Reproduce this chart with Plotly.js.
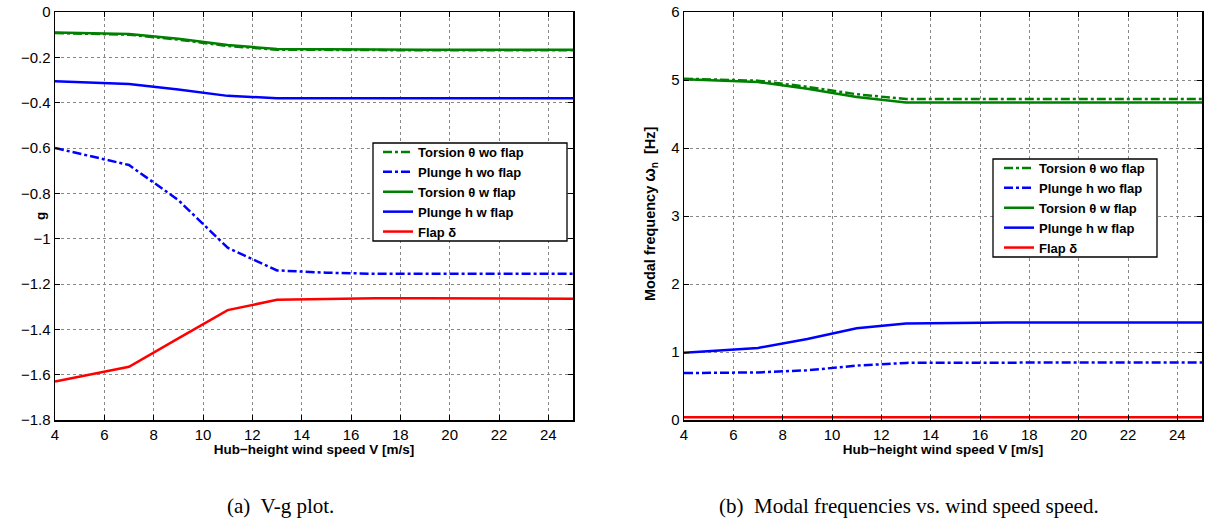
<!DOCTYPE html>
<html><head><meta charset="utf-8">
<script src="https://cdn.plot.ly/plotly-3.0.1.min.js"></script>
<style>body{margin:0;background:#fff}#c{width:1209px;height:520px}</style>
</head><body><div id="c"></div>
<script>
const windSpeed = [4, 7, 9, 11, 13, 15, 17, 19, 21, 23, 25];
const seriesNames = ["Torsion θ wo flap", "Plunge h wo flap", "Torsion θ w flap", "Plunge h w flap", "Flap δ"];
// V-g damping
const gTorsionWo = [-0.093, -0.100, -0.122, -0.150, -0.166, -0.168, -0.169, -0.169, -0.169, -0.169, -0.169];
const gPlungeWo  = [-0.600, -0.675, -0.830, -1.040, -1.140, -1.150, -1.155, -1.155, -1.155, -1.155, -1.155];
const gTorsionW  = [-0.090, -0.097, -0.118, -0.146, -0.163, -0.165, -0.166, -0.166, -0.166, -0.166, -0.166];
const gPlungeW   = [-0.305, -0.318, -0.342, -0.370, -0.380, -0.381, -0.381, -0.381, -0.381, -0.381, -0.381];
const gFlap      = [-1.630, -1.565, -1.440, -1.315, -1.270, -1.265, -1.263, -1.263, -1.263, -1.264, -1.265];
// Modal frequencies [Hz]
const fTorsionWo = [5.02, 4.99, 4.90, 4.79, 4.72, 4.72, 4.72, 4.72, 4.72, 4.72, 4.72];
const fPlungeWo  = [0.69, 0.70, 0.73, 0.80, 0.84, 0.845, 0.845, 0.845, 0.845, 0.845, 0.845];
const fTorsionW  = [5.01, 4.97, 4.87, 4.75, 4.67, 4.67, 4.67, 4.67, 4.67, 4.67, 4.67];
const fPlungeW   = [0.99, 1.06, 1.19, 1.35, 1.42, 1.43, 1.435, 1.435, 1.435, 1.435, 1.435];
const fFlap      = [0.04, 0.04, 0.04, 0.04, 0.04, 0.04, 0.04, 0.04, 0.04, 0.04, 0.04];
const xTicks = [4, 6, 8, 10, 12, 14, 16, 18, 20, 22, 24];
const gTicks = [0, -0.2, -0.4, -0.6, -0.8, -1, -1.2, -1.4, -1.6, -1.8];
const fTicks = [0, 1, 2, 3, 4, 5, 6];

const colors = ["#008000", "#0000ff", "#008000", "#0000ff", "#ff0000"];
const dashes = ["dashdot", "dashdot", "solid", "solid", "solid"];
const gData = [gTorsionWo, gPlungeWo, gTorsionW, gPlungeW, gFlap];
const fData = [fTorsionWo, fPlungeWo, fTorsionW, fPlungeW, fFlap];

const traces = [];
gData.forEach((y, i) => traces.push({x: windSpeed, y: y, xaxis: 'x', yaxis: 'y', mode: 'lines', name: seriesNames[i],
  line: {color: colors[i], dash: dashes[i], width: 2.5}, legend: 'legend'}));
fData.forEach((y, i) => traces.push({x: windSpeed, y: y, xaxis: 'x2', yaxis: 'y2', mode: 'lines', name: seriesNames[i],
  line: {color: colors[i], dash: dashes[i], width: 2.5}, legend: 'legend2'}));

const W = 1209, PT = 12, PB = 420, PH = PB - PT;
const px = v => v / W;
const py = v => (PB - v) / PH;

const fam = "Liberation Sans, Arial, sans-serif";
const fnt = {family: fam, size: 15, color: "#000"};
const titleFont = {family: fam, size: 13.5, color: '#000', weight: 'bold'};
const axBase = {showline: true, linecolor: '#000', linewidth: 1.5, mirror: 'ticks', ticks: 'inside', ticklen: 5,
  tickcolor: '#000', showgrid: true, gridcolor: '#888', griddash: 'dot', gridwidth: 1, zeroline: false, tickfont: fnt};
const xTitle = {text: "Hub−height wind speed V [m/s]", font: titleFont, standoff: 1};
const legBase = {font: {family: fam, size: 13, color: '#000', weight: 'bold'}, bgcolor: 'rgba(0,0,0,0)',
  borderwidth: 0, xanchor: 'left', yanchor: 'top', tracegroupgap: 0, itemwidth: 30};
const capFont = {family: "Liberation Serif, Times New Roman, serif", size: 21, color: '#000'};

const layout = {
  width: 1209, height: 520, margin: {l: 0, r: 0, t: PT, b: 520 - PB}, paper_bgcolor: '#fff', plot_bgcolor: '#fff',
  showlegend: true,
  xaxis: Object.assign({}, axBase, {domain: [px(55), px(573)], range: [4, 25], tickvals: xTicks, title: xTitle, anchor: 'y'}),
  yaxis: Object.assign({}, axBase, {range: [-1.8, 0], tickvals: gTicks, ticktext: gTicks.map(v => String(v).replace('-', '−')), anchor: 'x'}),
  xaxis2: Object.assign({}, axBase, {domain: [px(684), px(1202)], range: [4, 25], tickvals: xTicks, title: xTitle, anchor: 'y2'}),
  yaxis2: Object.assign({}, axBase, {range: [0, 6], tickvals: fTicks, anchor: 'x2'}),
  legend: Object.assign({}, legBase, {x: px(378), y: py(137)}),
  legend2: Object.assign({}, legBase, {x: px(999), y: py(153)}),
  shapes: [
    {type: 'rect', xref: 'paper', yref: 'paper', x0: px(373), x1: px(567), y0: py(143), y1: py(241),
     line: {color: '#000', width: 1.3}, fillcolor: '#fff', layer: 'above'},
    {type: 'rect', xref: 'paper', yref: 'paper', x0: px(993), x1: px(1157), y0: py(159), y1: py(257),
     line: {color: '#000', width: 1.3}, fillcolor: '#fff', layer: 'above'}
  ],
  annotations: [
    {text: "g", xref: 'paper', yref: 'paper', x: px(40), y: py(216), showarrow: false, textangle: -90,
     xanchor: 'center', yanchor: 'middle', font: titleFont},
    {text: "Modal frequency <span style='font-size:16px'>ω</span><sub>n</sub>  [Hz]", xref: 'paper', yref: 'paper', x: px(650), y: py(214), showarrow: false, textangle: -90,
     xanchor: 'center', yanchor: 'middle', font: Object.assign({}, titleFont, {size: 14.5})},
    {text: "(a)  V-g plot.", xref: 'paper', yref: 'paper', x: px(280), y: py(506), showarrow: false,
     xanchor: 'center', yanchor: 'middle', font: capFont},
    {text: "(b)  Modal frequencies vs. wind speed speed.", xref: 'paper', yref: 'paper', x: px(909), y: py(506), showarrow: false,
     xanchor: 'center', yanchor: 'middle', font: capFont}
  ]
};
Plotly.newPlot('c', traces, layout, {displayModeBar: false, staticPlot: true});
</script></body></html>
